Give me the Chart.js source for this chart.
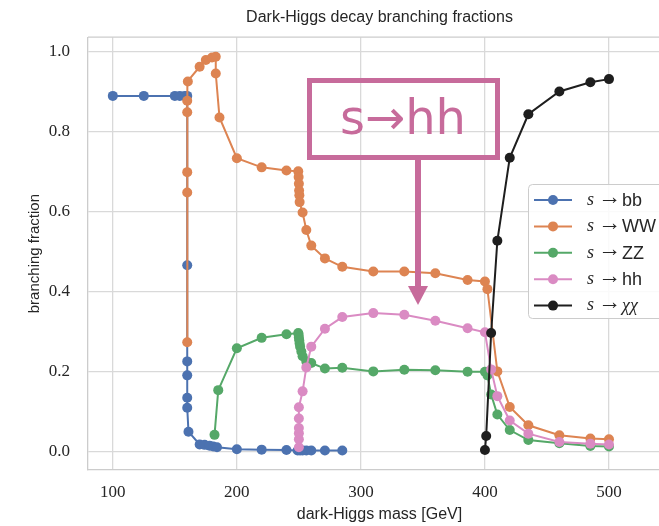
<!DOCTYPE html>
<html>
<head>
<meta charset="utf-8">
<script src="https://cdn.jsdelivr.net/npm/chart.js@4.4.0/dist/chart.umd.min.js"></script>
<style>
  html, body { margin: 0; padding: 0; background: #fff; overflow: hidden; }
  #wrap { position: absolute; left: 0; top: 0; width: 700px; height: 526px; }
</style>
</head>
<body>
<div id="wrap"><canvas id="brChart"></canvas></div>
<script>
// Dark-Higgs branching fractions vs mass

const BB_MASS = [100, 125, 150, 154, 158, 160, 160, 160, 160, 160, 160, 161, 170, 174, 178, 181, 184, 200, 220, 240, 249, 251, 253, 256, 260, 271, 285];
const BB_FRAC = [0.890, 0.890, 0.890, 0.890, 0.890, 0.890, 0.466, 0.225, 0.190, 0.134, 0.109, 0.049, 0.017, 0.016, 0.014, 0.012, 0.010, 0.005, 0.004, 0.003, 0.002, 0.002, 0.002, 0.002, 0.002, 0.002, 0.002];

const WW_MASS = [160, 160, 160, 160, 160, 160.5, 170, 175, 180, 183, 183, 186, 200, 220, 240, 249.5, 249.8, 250, 250.2, 250.4, 250.6, 253, 256, 260, 271, 285, 310, 335, 360, 386, 400, 402, 410, 420, 435, 460, 485, 500];
const WW_FRAC = [0.273, 0.648, 0.699, 0.849, 0.878, 0.926, 0.963, 0.980, 0.986, 0.988, 0.946, 0.836, 0.734, 0.711, 0.703, 0.701, 0.687, 0.670, 0.653, 0.641, 0.624, 0.598, 0.554, 0.515, 0.483, 0.462, 0.450, 0.450, 0.446, 0.429, 0.425, 0.406, 0.200, 0.111, 0.065, 0.040, 0.032, 0.030];

const ZZ_MASS = [182, 185, 200, 220, 240, 249.5, 249.8, 250, 250.3, 250.6, 251, 252, 253, 256, 260, 271, 285, 310, 335, 360, 386, 400, 402, 405, 410, 420, 435, 460, 485, 500];
const ZZ_FRAC = [0.041, 0.153, 0.258, 0.284, 0.293, 0.296, 0.292, 0.285, 0.278, 0.270, 0.262, 0.250, 0.238, 0.225, 0.221, 0.207, 0.209, 0.200, 0.204, 0.203, 0.199, 0.199, 0.190, 0.142, 0.092, 0.053, 0.028, 0.020, 0.013, 0.012];

const HH_MASS = [250, 250, 250, 250, 250, 250, 253, 256, 260, 271, 285, 310, 335, 360, 386, 400, 405, 410, 420, 435, 460, 485, 500];
const HH_FRAC = [0.010, 0.030, 0.045, 0.058, 0.082, 0.110, 0.150, 0.210, 0.262, 0.307, 0.336, 0.346, 0.342, 0.327, 0.308, 0.298, 0.205, 0.138, 0.077, 0.044, 0.023, 0.019, 0.017];

const XX_MASS = [400, 401, 405, 410, 420, 435, 460, 485, 500];
const XX_FRAC = [0.003, 0.038, 0.296, 0.527, 0.735, 0.844, 0.901, 0.924, 0.932];

const CHANNELS = ['bb', 'WW', 'ZZ', 'hh', 'χχ'];
const COLORS = ['#4c72b0', '#dd8452', '#55a868', '#da8bc3', '#1e1e1e'];

const X_TICKS = [100, 200, 300, 400, 500];
const Y_TICKS = [0.0, 0.2, 0.4, 0.6, 0.8, 1.0];

const ANNOT_COLOR = '#c76b9b';
const SANS = '"Liberation Sans", Arial, sans-serif';
const SERIF = '"Liberation Serif", "DejaVu Serif", serif';

function points(xs, ys) {
  return xs.map((x, i) => ({ x, y: ys[i] }));
}

const SERIES = [
  points(BB_MASS, BB_FRAC),
  points(WW_MASS, WW_FRAC),
  points(ZZ_MASS, ZZ_FRAC),
  points(HH_MASS, HH_FRAC),
  points(XX_MASS, XX_FRAC)
];

// legend box, frame top edge and the slide annotation
const overlay = {
  id: 'overlay',
  afterDraw(chart) {
    const ctx = chart.ctx;
    const area = chart.chartArea;
    ctx.save();

    // top spine
    ctx.strokeStyle = '#cccccc';
    ctx.lineWidth = 1.3;
    ctx.beginPath();
    ctx.moveTo(area.left, area.top);
    ctx.lineTo(area.right, area.top);
    ctx.stroke();

    // legend
    ctx.beginPath();
    ctx.roundRect(528.5, 184.5, 200, 134, 4);
    ctx.fillStyle = 'rgba(255,255,255,0.85)';
    ctx.fill();
    ctx.strokeStyle = '#cccccc';
    ctx.lineWidth = 1;
    ctx.stroke();

    CHANNELS.forEach((name, i) => {
      const y = 200 + i * 26.4;
      ctx.strokeStyle = COLORS[i];
      ctx.lineWidth = 2;
      ctx.beginPath();
      ctx.moveTo(534, y);
      ctx.lineTo(572, y);
      ctx.stroke();
      ctx.fillStyle = COLORS[i];
      ctx.beginPath();
      ctx.arc(553, y, 5, 0, Math.PI * 2);
      ctx.fill();

      ctx.fillStyle = '#262626';
      ctx.textBaseline = 'middle';
      ctx.textAlign = 'left';
      ctx.font = 'italic 18px ' + SERIF;
      ctx.fillText('s', 587, y);
      ctx.font = '23px ' + SERIF;
      ctx.fillText('→', 598, y - 2.5);
      if (name === 'χχ') {
        ctx.font = 'italic 18px ' + SERIF;
      } else {
        ctx.font = '18px ' + SANS;
      }
      ctx.fillText(name, 622, y + 1);
    });

    // annotation box with arrow
    ctx.strokeStyle = ANNOT_COLOR;
    ctx.fillStyle = ANNOT_COLOR;
    ctx.lineWidth = 5;
    ctx.strokeRect(309.5, 80.5, 188, 77);
    ctx.font = '48px "DejaVu Sans", sans-serif';
    ctx.textAlign = 'center';
    ctx.textBaseline = 'alphabetic';
    ctx.fillText('s→hh', 403, 134);
    ctx.fillRect(415, 160, 6, 128);
    ctx.beginPath();
    ctx.moveTo(408, 286);
    ctx.lineTo(428, 286);
    ctx.lineTo(418, 305);
    ctx.closePath();
    ctx.fill();

    ctx.restore();
  }
};

const gridStyle = { color: '#d9d9d9', lineWidth: 1.3, drawTicks: false };
const borderStyle = { color: '#cccccc', width: 1.3 };

new Chart(document.getElementById('brChart'), {
  type: 'line',
  data: {
    datasets: SERIES.map((pts, i) => ({
      label: 's → ' + CHANNELS[i],
      data: pts,
      borderColor: COLORS[i],
      backgroundColor: COLORS[i],
      borderWidth: 2,
      pointRadius: 5,
      pointBorderWidth: 0,
      pointHoverRadius: 5,
      tension: 0,
      order: CHANNELS.length - i
    }))
  },
  options: {
    responsive: true,
    maintainAspectRatio: false,
    animation: false,
    layout: { padding: { left: 0, right: 29, top: 0, bottom: 0 } },
    plugins: {
      legend: { display: false },
      tooltip: { enabled: false },
      title: {
        display: true,
        text: 'Dark-Higgs decay branching fractions',
        fullSize: false,
        color: '#262626',
        font: { family: SANS, size: 16, weight: 'normal' },
        padding: { top: 8, bottom: 10 }
      }
    },
    scales: {
      x: {
        type: 'linear',
        min: 80,
        max: 550,
        afterBuildTicks: s => { s.ticks = X_TICKS.map(v => ({ value: v })); },
        afterFit: s => { s.height = 56; },
        grid: gridStyle,
        border: borderStyle,
        ticks: { color: '#262626', padding: 12, font: { family: SERIF, size: 17 } },
        title: {
          display: true,
          text: 'dark-Higgs mass [GeV]',
          color: '#262626',
          font: { family: SANS, size: 16 },
          padding: { top: 0, bottom: 2 }
        }
      },
      y: {
        type: 'linear',
        min: -0.047,
        max: 1.037,
        afterBuildTicks: s => { s.ticks = Y_TICKS.map(v => ({ value: v })); },
        afterFit: s => { s.width = 88; },
        grid: gridStyle,
        border: borderStyle,
        ticks: {
          color: '#262626',
          padding: 18,
          font: { family: SERIF, size: 17 },
          callback: v => v.toFixed(1)
        },
        title: {
          display: true,
          text: 'branching fraction',
          color: '#262626',
          font: { family: SANS, size: 15 },
          padding: { top: 26, bottom: 0 }
        }
      }
    }
  },
  plugins: [overlay]
});
</script>
</body>
</html>
